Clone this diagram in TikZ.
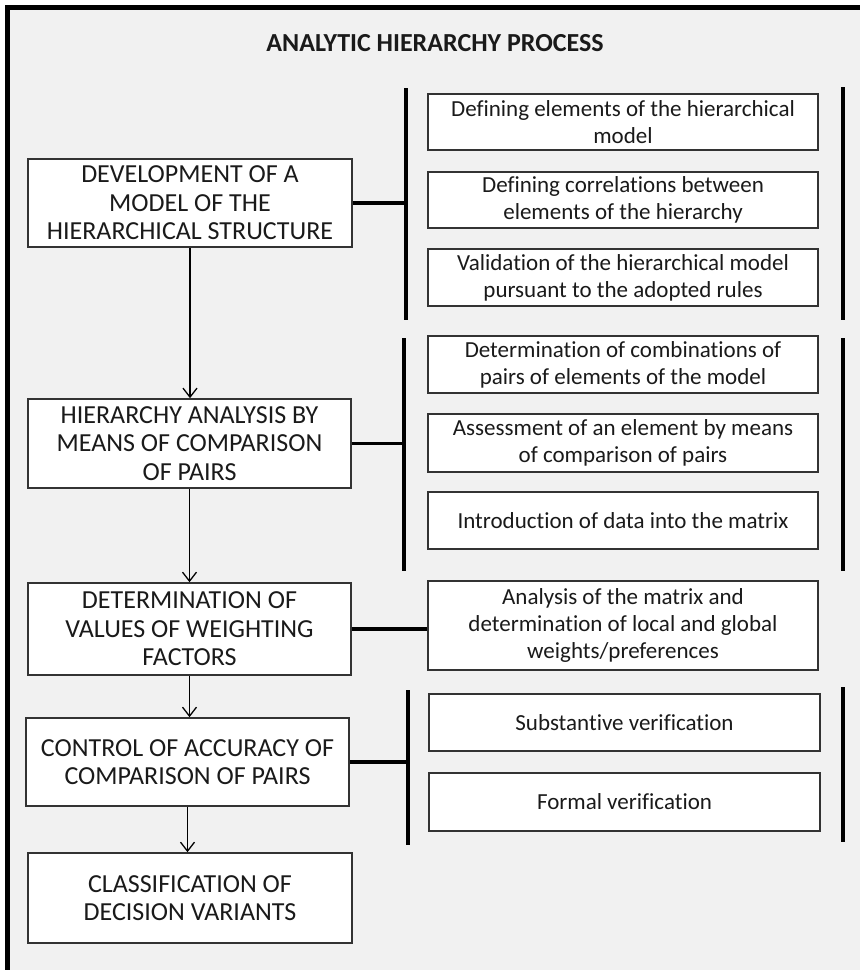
\documentclass[tikz,border=0pt]{standalone}
\usepackage{fontspec}
\setmainfont{Carlito}[Ligatures=NoCommon]
\usetikzlibrary{arrows.meta}
\definecolor{bgc}{HTML}{F1F1F1}
\definecolor{edgec}{HTML}{333333}
\definecolor{txtc}{HTML}{1A1A1A}
\tikzset{
  mainbox/.style={draw=edgec, line width=1.6pt, fill=white, minimum width=324pt, inner sep=0pt, align=center, text=txtc, font=\fontsize{26}{28.5}\selectfont},
  subbox/.style={draw=edgec, line width=1.6pt, fill=white, minimum width=390pt, inner sep=0pt, align=center, text=txtc, font=\fontsize{23}{27}\selectfont},
  bar/.style={line width=3.8pt, black},
  link/.style={line width=3.4pt, black},
  flow/.style={line width=1.3pt, black, -{Straight Barb[length=9pt,width=14pt,line width=1.3pt]}},
}
\begin{document}
\begin{tikzpicture}[x=1pt,y=-1pt]
\useasboundingbox (0,0) rectangle (860,970);
\fill[white] (0,0) rectangle (860,970);
\fill[bgc] (10,10) rectangle (860,970);
\fill[black] (5,5) rectangle (860,10);
\fill[black] (5,5) rectangle (10,970);

\node[text=txtc, font=\bfseries\fontsize{26}{28}\selectfont] (title) at (435,43) {ANALYTIC HIERARCHY PROCESS};

% main boxes
\node[mainbox, minimum height=88pt] (b1) at (190,203) {DEVELOPMENT OF A\\MODEL OF THE\\HIERARCHICAL STRUCTURE};
\node[mainbox, minimum height=89pt, minimum width=323pt] (b2) at (189.5,443.5) {HIERARCHY ANALYSIS BY\\MEANS OF COMPARISON\\OF PAIRS};
\node[mainbox, minimum height=92pt, minimum width=323pt] (b3) at (189.5,629) {DETERMINATION OF\\VALUES OF WEIGHTING\\FACTORS};
\node[mainbox, minimum height=88pt, minimum width=323pt] (b4) at (187.5,762) {CONTROL OF ACCURACY OF\\COMPARISON OF PAIRS};
\node[mainbox, minimum height=90pt] (b5) at (190,898) {CLASSIFICATION OF\\DECISION VARIANTS};

% sub boxes
\node[subbox, minimum height=56pt] (sa) at (623,122) {Defining elements of the hierarchical\\model};
\node[subbox, minimum height=56pt] (sb) at (623,200) {Defining correlations between\\elements of the hierarchy};
\node[subbox, minimum height=57pt] (sc) at (623,277.5) {Validation of the hierarchical model\\pursuant to the adopted rules};
\node[subbox, minimum height=57pt] (sd) at (623,364.5) {Determination of combinations of\\pairs of elements of the model};
\node[subbox, minimum height=58pt] (se) at (623,443) {Assessment of an element by means\\of comparison of pairs};
\node[subbox, minimum height=57pt] (sf) at (623,520.5) {Introduction of data into the matrix};
\node[subbox, minimum height=89pt] (sg) at (623,625.5) {Analysis of the matrix and\\determination of local and global\\weights/preferences};
\node[subbox, minimum height=57pt, minimum width=391pt] (sh) at (624.5,722.5) {Substantive verification};
\node[subbox, minimum height=58pt, minimum width=391pt] (si) at (624.5,802) {Formal verification};

% bars
\coordinate (l1t) at (406,88);  \coordinate (l1b) at (406,320);
\coordinate (r1t) at (843,87);  \coordinate (r1b) at (843,320);
\coordinate (l2t) at (404,338); \coordinate (l2b) at (404,571);
\coordinate (r2t) at (843,338); \coordinate (r2b) at (843,571);
\coordinate (l4t) at (408,690); \coordinate (l4b) at (408,845);
\coordinate (r4t) at (843,687); \coordinate (r4b) at (843,842);
\draw[bar] (l1t) -- (l1b);
\draw[bar] (r1t) -- (r1b);
\draw[bar] (l2t) -- (l2b);
\draw[bar] (r2t) -- (r2b);
\draw[bar] (l4t) -- (l4b);
\draw[bar] (r4t) -- (r4b);

% horizontal links
\draw[link] (b1.east) -- (b1.east -| l1t);
\draw[link] (b2.east) -- (b2.east -| l2t);
\draw[link] (b3.east) -- (b3.east -| sg.west);
\draw[link] (b4.east) -- (b4.east -| l4t);

% flow arrows
\draw[flow] (b1.south) -- (b1.south |- b2.north);
\draw[flow] (b2.south) -- (b2.south |- b3.north);
\draw[flow] (b3.south) -- (b3.south |- b4.north);
\draw[flow] (b4.south) -- (b4.south |- b5.north);
\end{tikzpicture}
\end{document}
